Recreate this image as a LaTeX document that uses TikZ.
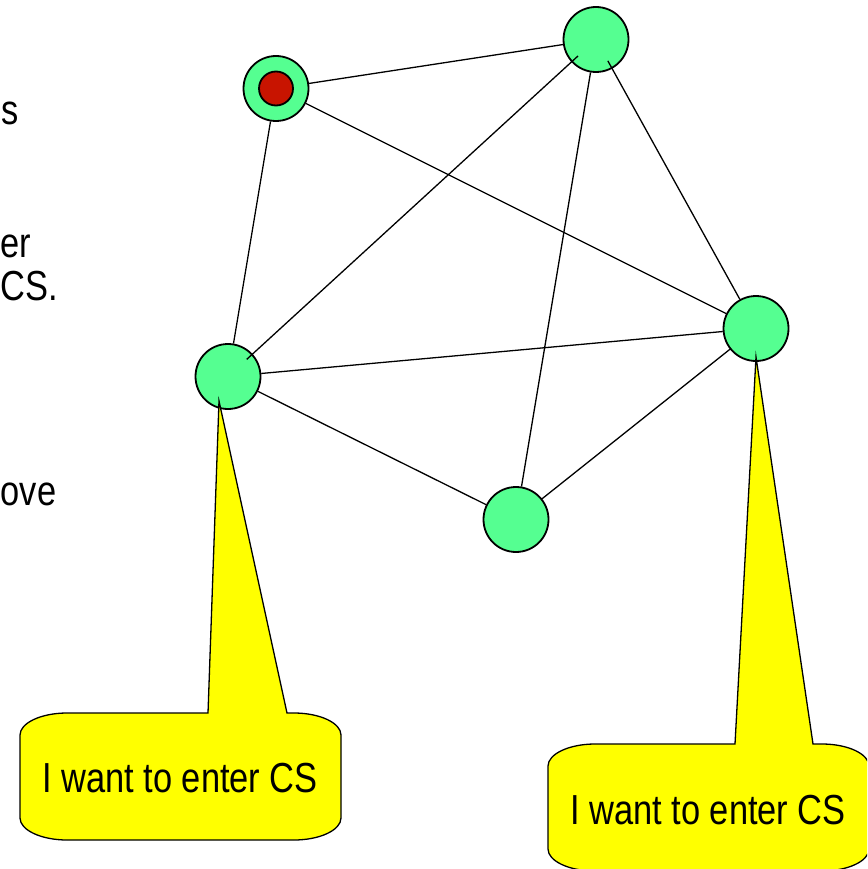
\documentclass[tikz,border=0pt]{standalone}
\usepackage{fontspec}
\usepackage{tikz}
\usetikzlibrary{calc}
\newfontfamily\slidefont[FakeStretch=0.82]{Liberation Sans}
\definecolor{mint}{HTML}{55FF91}
\definecolor{token}{HTML}{C81400}
\definecolor{note}{HTML}{FFFF00}

\begin{document}
\begin{tikzpicture}[x=1pt, y=-1pt,
  font=\slidefont\fontsize{42}{48}\selectfont,
  proc/.style={circle, draw, line width=1.8pt, fill=mint, minimum size=65pt, inner sep=0pt},
  holder/.style={circle, draw, line width=1.8pt, fill=token, minimum size=34pt, inner sep=0pt},
  link/.style={line width=1.3pt},
  balloon/.style={draw, line width=1.3pt, fill=note, line join=miter}]
\useasboundingbox (0,0) rectangle (867,869);
\clip (0,0) rectangle (867,869);
% slide text ends on the left
\node[anchor=base east, inner sep=0pt] (txtA) at (19,125) {s};
\node[anchor=base west, inner sep=0pt] (txtB) at (0.5,257) {er};
\node[anchor=base west, inner sep=0pt] (txtC) at (0.5,300) {CS.};
\node[anchor=base west, inner sep=0pt] (txtD) at (0.5,505) {ove};
% processes
\node[proc] (pRed) at (276,88.5) {};
\node[proc] (pTop) at (596,39.5) {};
\node[proc] (pRight) at (756,328.5) {};
\node[proc] (pLeft) at (228,376.5) {};
\node[proc] (pBottom) at (516,519.5) {};
\node[holder] (tok) at (pRed) {};
\draw[link] (pRed) -- (pTop);
\draw[link] (pRed) -- (pRight);
\draw[link] (pRed) -- (pLeft);
\draw[link] (pTop) -- (pBottom);
\draw[link] (pLeft) -- (pRight);
\draw[link] (pLeft) -- (pBottom);
\draw[link] (pBottom) -- (pRight);
\draw[link, shorten <=-9pt, shorten >=-8pt] (pTop) -- (pLeft);
\draw[link, shorten <=-9pt] (pTop) -- (pRight);
% request balloons
\coordinate (tipA) at ($(pLeft)+(-9,24.5)$);
\coordinate (tipB) at ($(pRight)+(0,28.5)$);
\draw[balloon] (208,713) -- (tipA) -- (287,713) -- (294,713)
  .. controls (320,713) and (341,723) .. (341,735) -- (341,818)
  .. controls (341,830) and (320,840) .. (294,840) -- (67,840)
  .. controls (41,840) and (20,830) .. (20,818) -- (20,735)
  .. controls (20,723) and (41,713) .. (67,713) -- cycle;
\draw[balloon] (735,744) -- (tipB) -- (813,744) -- (822,744)
  .. controls (848,744) and (869,754) .. (869,766) -- (869,849)
  .. controls (869,861) and (848,871) .. (822,871) -- (595,871)
  .. controls (569,871) and (548,861) .. (548,849) -- (548,766)
  .. controls (548,754) and (569,744) .. (595,744) -- cycle;
\node[anchor=base] (reqA) at (180,792) {I want to enter CS};
\node[anchor=base] (reqB) at (708,824) {I want to enter CS};
\end{tikzpicture}
\end{document}
